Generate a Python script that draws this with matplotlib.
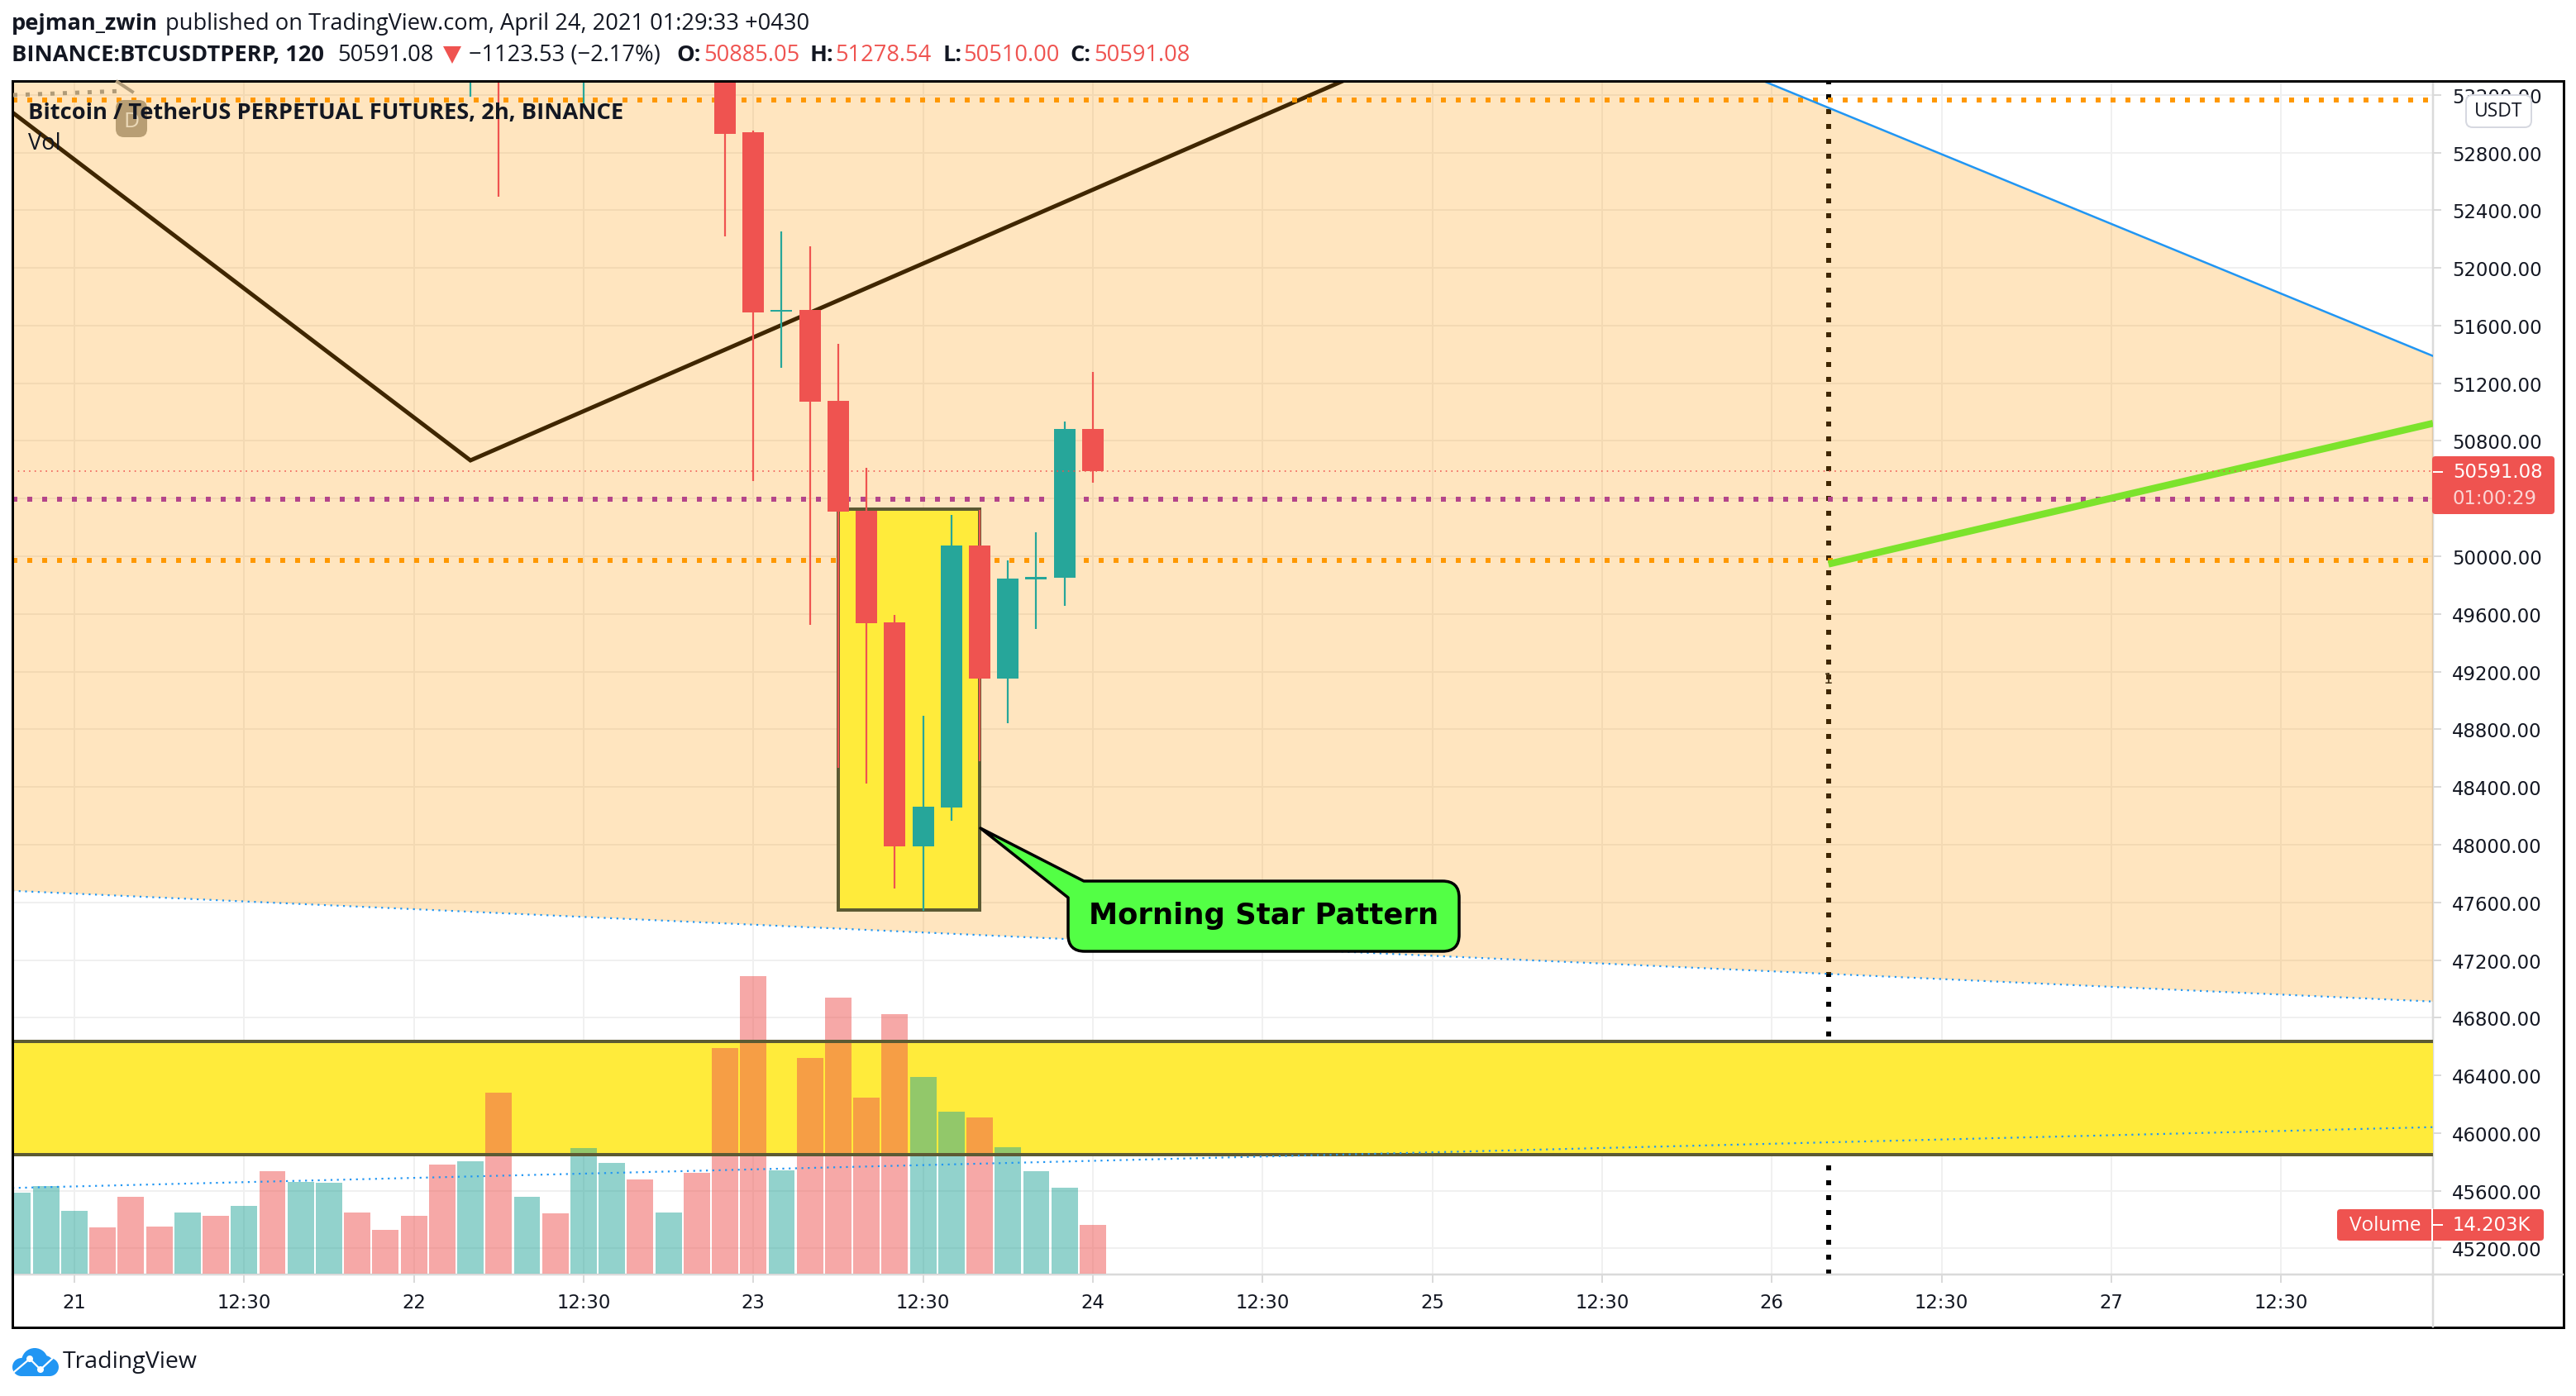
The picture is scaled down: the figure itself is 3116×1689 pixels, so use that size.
import matplotlib
matplotlib.use("Agg")
import matplotlib.pyplot as plt
from matplotlib.patches import FancyBboxPatch, PathPatch, Rectangle, Circle, Polygon
from matplotlib.path import Path

# ---------- data ----------
candle_idx = [14, 15, 18, 23, 24, 25, 26, 27, 28, 29, 30, 31, 32, 33, 34, 35, 36]
opens  = [53400, 53700, 53400, 53500, 52940, 51695, 51709, 51078, 50316, 49541, 47990, 48257, 50075, 49150, 49842, 49850, 50885.05]
closes = [53700, 53400, 53800, 52932, 51693, 51711, 51072, 50309, 49538, 47990, 48263, 50075, 49150, 49845, 49858, 50882, 50591.08]
highs  = [53900, 53900, 53900, 53700, 52952, 52252, 52150, 51472, 50613, 49592, 48895, 50288, 50320, 49971, 50166, 50934, 51278.54]
lows   = [53187, 52493, 53135, 52219, 50523, 51306, 49525, 48533, 48424, 47696, 47539, 48166, 48577, 48842, 49496, 49657, 50510.00]

vol_idx = list(range(-2, 37))
volumes = [23.6, 25.5, 18.1, 13.4, 22.4, 13.7, 17.8, 16.8, 19.7, 29.8, 26.7, 26.4, 17.8, 12.8, 16.8, 31.8, 32.7,
           52.7, 22.4, 17.6, 36.6, 32.2, 27.4, 17.8, 29.3, 65.5, 86.6, 30.1, 62.6, 80.2, 51.2, 75.4, 57.3, 47.2,
           45.5, 36.8, 29.8, 25.0, 14.203]
vol_up = [1, 1, 1, 0, 0, 0, 1, 0, 1, 0, 1, 1, 0, 0, 0, 0, 1, 0, 1, 0, 1, 1, 0, 1, 0, 0, 0, 1, 0, 0, 0, 0, 1, 1, 0, 1, 1, 1, 0]

price_ticks = list(range(45200, 53201, 400))
time_ticks = list(range(0, 79, 6))
time_labels = ["21", "12:30", "22", "12:30", "23", "12:30", "24", "12:30", "25", "12:30", "26", "12:30", "27", "12:30"]

black_x = [-2.19, 14, 45]
black_y = [53078, 50665, 53310]
blue_top_x = [-2.19, 59.7, 83.37]
blue_top_y = [63000, 53296, 51389]
blue_low_x = [-2.19, 83.37]
blue_low_y = [47680, 46912]
blue_mid_y = [45619, 46041]
green_x = [62, 83.37]
green_y = [49946, 50922]
orange_levels = [53164, 49971]
purple_level = 50398
last_price = 50591.08
band = (45848, 46637)
star_box = (27, 32, 47548, 50327)
vline_x = 62

# ---------- colours ----------
RED, TEAL, INK = "#EF5350", "#26A69A", "#131722"
BORDER = "#5C5A33"
UI = "Open Sans"

W, H = 3116, 1690
fig = plt.figure(figsize=(W / 100, H / 100), dpi=100, facecolor="white")
px = 0.72
L, R, T, B = 15, 2943, 99, 1543
rect = [L / W, 1 - B / H, (R - L) / W, (B - T) / H]
XL = (-2.19, 83.37)
YL = (45019, 53296)

def make_ax(z):
    a = fig.add_axes(rect, zorder=z)
    a.set_xlim(*XL)
    a.set_ylim(*YL)
    return a

# background axes: grid, drawings under the fill, ticks
ax = make_ax(1)
ax.set_facecolor("white")
ax.set_yticks(price_ticks)
ax.set_yticklabels([f"{p:.2f}" for p in price_ticks])
ax.set_xticks(time_ticks)
ax.set_xticklabels(time_labels)
ax.yaxis.tick_right()
ax.grid(True, color="#F0F0F0", lw=2 * px)
ax.set_axisbelow(True)
ax.tick_params(axis="y", length=10 * px, width=2 * px, color="#DADADA", labelsize=16.4, labelcolor=INK, pad=13 * px)
ax.tick_params(axis="x", length=10 * px, width=2 * px, color="#DADADA", labelsize=16.4, labelcolor=INK, pad=12 * px)
for s in ("left", "top"):
    ax.spines[s].set_visible(False)
for s in ("right", "bottom"):
    ax.spines[s].set_color("#DADADA")
    ax.spines[s].set_linewidth(2.5 * px)

ax.plot([vline_x, vline_x], YL, color="black", lw=6 * px, ls=(0, (1, 2)), zorder=2)
ax.plot(black_x, black_y, color="black", lw=5 * px, solid_joinstyle="miter", zorder=2)
ax.fill_between(blue_top_x, blue_top_y,
                [blue_low_y[0], blue_low_y[0] + (blue_low_y[1] - blue_low_y[0]) * (59.7 + 2.19) / 85.56, blue_low_y[1]],
                color="#FF9800", alpha=0.25, lw=0, zorder=3)
ax.axhspan(band[0], band[1], color="#FFEB3B", lw=0, zorder=4)

# volume axes
vol = fig.add_axes(rect, zorder=2)
vol.patch.set_alpha(0)
vol.set_xlim(*XL)
vol.set_ylim(-0.3, 347)
vol.axis("off")
vol.bar(vol_idx, volumes, width=0.93, color=[TEAL if u else RED for u in vol_up], alpha=0.5, lw=0)

# top axes: levels, candles, trend lines
top = make_ax(3)
top.patch.set_alpha(0)
top.axis("off")
for lv in orange_levels:
    top.axhline(lv, color="#FF9800", lw=6 * px, ls=(0, (1, 2)), zorder=1)
top.axhline(purple_level, color="#B4458A", lw=6 * px, ls=(0, (1, 2)), zorder=1)
top.axhline(band[0], color=BORDER, lw=4 * px, zorder=1)
top.axhline(band[1], color=BORDER, lw=4 * px, zorder=1)
top.plot(blue_top_x, blue_top_y, color="#2196F3", lw=2.5 * px, zorder=1)
top.plot(blue_low_x, blue_low_y, color="#2196F3", lw=2.2 * px, ls=(0, (1, 2.5)), zorder=1)
top.plot(blue_low_x, blue_mid_y, color="#2196F3", lw=2.2 * px, ls=(0, (1, 2.5)), zorder=1)
top.plot(green_x, green_y, color="#7CE32C", lw=8.5 * px, solid_capstyle="butt", zorder=1.5)
x0, x1, y0, y1 = star_box
top.add_patch(Rectangle((x0, y0), x1 - x0, y1 - y0, fc="#FFEB3B", ec=BORDER, lw=4 * px, zorder=2))
for i, o, c, h, l in zip(candle_idx, opens, closes, highs, lows):
    col = TEAL if c >= o else RED
    top.plot([i, i], [l, h], color=col, lw=2.2 * px, solid_capstyle="butt", zorder=3)
    top.bar(i, abs(c - o), bottom=min(o, c), width=0.76, color=col, lw=0, zorder=3)
top.axhline(last_price, color=RED, lw=1.6 * px, ls=(0, (1, 3.2)), zorder=4)

# overlay in pixel coordinates: panel furniture and text
ov = fig.add_axes([0, 0, 1, 1], zorder=5)
ov.set_xlim(0, W)
ov.set_ylim(H, 0)
ov.axis("off")
ov.patch.set_alpha(0)

ov.add_patch(Rectangle((15, 99), 3101 - 15, 1607 - 99, fc="none", ec="black", lw=3 * px))
ov.plot([R, R], [B, 1606], color="#DADADA", lw=2.5 * px)
ov.plot([R, 3100], [B, B], color="#DADADA", lw=2.5 * px)

# faint drawing fragments, top left
ov.plot([16, 150], [116, 111], color="#B09B78", lw=5 * px, ls=(0, (1, 2)))
ov.plot([142, 160], [100, 112], color="#B09B78", lw=4 * px)

# badge
ov.add_patch(FancyBboxPatch((146, 128), 26, 33, boxstyle="round,pad=6,rounding_size=10", fc="#B89E74", ec="none"))
ov.text(159, 148, "D", color="#EBD9B8", fontsize=19, ha="center", va="center", family=UI)

def t(x, y, s, color=INK, weight="normal", size=19.6, ha="left", family=UI, z=6):
    return ov.text(x, y, s, color=color, fontweight=weight, fontsize=size, ha=ha, va="center", family=family, zorder=z)

# header
t(14, 29, "pejman_zwin", weight="bold")
t(200, 29, "published on TradingView.com, April 24, 2021 01:29:33 +0430")
t(14, 67, "BINANCE:BTCUSDTPERP, 120", weight="bold")
t(408, 67, "50591.08")
ov.add_patch(Polygon([[536, 57], [558, 57], [547, 78]], fc=RED, ec="none"))
t(567, 67, "\u22121123.53 (\u22122.17%)")
for x, lab, xv, val in [(818, "O:", 851, "50885.05"), (980, "H:", 1010, "51278.54"),
                        (1141, "L:", 1165, "50510.00"), (1294, "C:", 1323, "50591.08")]:
    t(x, 67, lab, weight="bold")
    t(xv, 67, val, color=RED)

# legend
t(34, 137, "Bitcoin / TetherUS PERPETUAL FUTURES, 2h, BINANCE", weight="bold")
t(34, 174, "Vol")

# vertical-line label
ov.text(2212, 822, "1", color="#3E2A0C", fontsize=13, ha="center", va="center", family="DejaVu Sans")

# callout
lft, rgt, tp, bt, r = 1292, 1765, 1067, 1152, 20
tip = (1186, 1003)
verts = [(lft + 19, tp), (rgt - r, tp), (rgt, tp), (rgt, tp + r), (rgt, bt - r), (rgt, bt), (rgt - r, bt),
         (lft + r, bt), (lft, bt), (lft, bt - r), (lft, tp + 20), tip, (lft + 19, tp)]
codes = [Path.MOVETO, Path.LINETO, Path.CURVE3, Path.CURVE3, Path.LINETO, Path.CURVE3, Path.CURVE3,
         Path.LINETO, Path.CURVE3, Path.CURVE3, Path.LINETO, Path.LINETO, Path.CLOSEPOLY]
ov.add_patch(PathPatch(Path(verts, codes), fc="#53FF45", ec="black", lw=3.5 * px, joinstyle="round"))
ov.text(1529, 1108, "Morning Star Pattern", color="black", fontweight="bold", fontsize=25.5, ha="center", va="center",
        family="DejaVu Sans")

# price tag
ov.add_patch(FancyBboxPatch((R + 1, 555), 3090 - R - 3, 66, boxstyle="round,pad=2,rounding_size=4", fc=RED, ec="none"))
ov.plot([R + 1, 2954], [572, 572], color="white", lw=2 * px)
ov.text(2967, 572, f"{last_price:.2f}", color="white", fontsize=16.4, va="center", family="DejaVu Sans")
ov.text(2967, 604, "01:00:29", color="#FBD5D4", fontsize=16.4, va="center", family="DejaVu Sans")

# volume tag
ov.add_patch(FancyBboxPatch((2829, 1466), 3075 - 2829, 34, boxstyle="round,pad=2,rounding_size=4", fc=RED, ec="none", zorder=3))
ov.plot([2942, 2942], [1464, 1502], color="white", lw=2 * px, zorder=4)
ov.plot([R + 1, 2954], [1483, 1483], color="white", lw=2 * px, zorder=4)
ov.text(2885, 1483, "Volume", color="white", fontsize=17.5, va="center", ha="center", family=UI, zorder=4)
ov.text(2967, 1483, "14.203K", color="white", fontsize=16.4, va="center", family="DejaVu Sans", zorder=4)

# currency badge
ov.add_patch(FancyBboxPatch((2989, 122), 67, 27, boxstyle="round,pad=6,rounding_size=8", fc="white", ec="#D6D8E0", lw=2 * px, zorder=3))
ov.text(3022, 135, "USDT", color=INK, fontsize=16.5, va="center", ha="center", family=UI, zorder=4)

# footer logo
BL = "#2196F3"
for cx, cy, rad in [(26, 1655, 11), (42, 1648, 16), (60, 1655, 11), (54, 1652, 11)]:
    ov.add_patch(Circle((cx, cy), rad, fc=BL, ec="none"))
ov.add_patch(Rectangle((26, 1652), 34, 14, fc=BL, ec="none"))
ov.plot([17, 36, 49, 63], [1661, 1645, 1658, 1645], color="white", lw=2.2 * px)
ov.add_patch(Circle((36, 1645), 4, fc="white", ec="none"))
ov.add_patch(Circle((49, 1658), 4, fc="white", ec="none"))
t(76, 1648, "TradingView", size=20.5)

fig.savefig("out.png", dpi=100, facecolor="white")
